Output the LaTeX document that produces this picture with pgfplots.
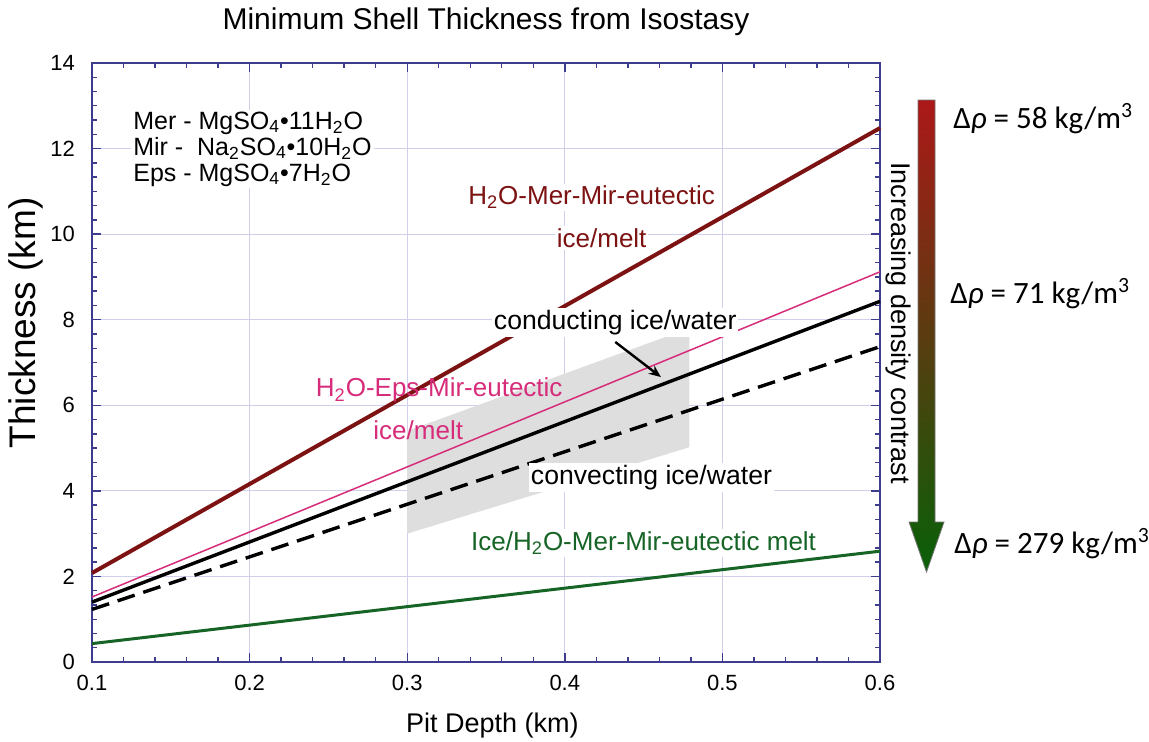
\documentclass[border=0pt]{standalone}
\usepackage{fontspec}
\setmainfont{Liberation Sans}
\newfontfamily\calfont{Carlito}
\usepackage{pgfplots}
\pgfplotsset{compat=1.18}
\usetikzlibrary{arrows.meta}

\definecolor{axisnavy}{RGB}{62,60,140}
\definecolor{gridc}{RGB}{208,208,236}
\definecolor{merred}{RGB}{124,18,18}
\definecolor{epspink}{RGB}{214,44,122}
\definecolor{icegreen}{RGB}{22,100,38}
\definecolor{shadegrey}{RGB}{222,222,222}
\definecolor{arrtop}{RGB}{172,24,24}
\definecolor{arrbot}{RGB}{8,96,8}

\begin{document}
\begin{tikzpicture}
\useasboundingbox (-46pt,-39.5pt) rectangle (528.5pt,331pt);
\begin{axis}[
  at={(0,0)}, anchor=south west,
  width=394pt, height=299.5pt, scale only axis,
  xmin=0.1, xmax=0.6, ymin=0, ymax=14,
  xtick={0.1,0.2,0.3,0.4,0.5,0.6},
  xticklabels={0.1,0.2,0.3,0.4,0.5,0.6},
  ytick={0,2,4,6,8,10,12,14},
  minor x tick num=4, minor y tick num=5,
  tick align=inside, xtick pos=both, ytick pos=both,
  major tick length=4.5pt, minor tick length=2.3pt,
  axis line style={axisnavy, line width=0.75pt},
  tick style={axisnavy, line width=0.7pt},
  grid=major, major grid style={gridc, line width=0.5pt},
  tick label style={font=\fontsize{11}{13}\selectfont},
  /pgf/number format/assume math mode=true,
  xticklabel style={yshift=-3pt},
  yticklabel style={xshift=-5pt},
  title={Minimum Shell Thickness from Isostasy},
  title style={font=\fontsize{15}{18}\selectfont, at={(axis description cs:0.5,1)}, anchor=base, yshift=11pt},
  xlabel={Pit Depth (km)},
  xlabel style={font=\fontsize{13.5}{16}\selectfont, at={(axis description cs:0.508,-0.1185)}, anchor=base},
  ylabel={Thickness (km)},
  ylabel style={font=\fontsize{18.5}{21}\selectfont, at={(axis description cs:-0.0723,0.566)}, anchor=base},
  clip=false,
]
% range of thickness estimates
\addplot[fill=shadegrey, draw=none] coordinates {(0.3,3.0) (0.479,5.02) (0.479,7.8) (0.3,5.4)} -- cycle;

% eutectic melt beneath ice
\addplot[icegreen, line width=1.5pt] coordinates {(0.1,0.43) (0.6,2.59)};
% convecting ice over water
\addplot[black, line width=1.7pt, dash pattern=on 9pt off 4.5pt] coordinates {(0.1,1.23) (0.6,7.37)};
% conducting ice over water
\addplot[black, line width=1.7pt] coordinates {(0.1,1.40) (0.6,8.43)};
% H2O-Eps-Mir eutectic
\addplot[epspink, line width=0.75pt] coordinates {(0.1,1.52) (0.6,9.12)};
% H2O-Mer-Mir eutectic
\addplot[merred, line width=2pt] coordinates {(0.1,2.08) (0.6,12.48)};

\node[fill=white, inner sep=1pt, align=left, anchor=west,
      font=\fontsize{12.5}{13}\selectfont] at (axis cs:0.1247,11.99)
  {Mer - MgSO\textsubscript{4}\textbullet 11H\textsubscript{2}O\\
   Mir -\ \ Na\textsubscript{2}SO\textsubscript{4}\textbullet 10H\textsubscript{2}O\\
   Eps - MgSO\textsubscript{4}\textbullet 7H\textsubscript{2}O};

\begin{scope}[every node/.style={fill=white, inner sep=1pt, font=\fontsize{13}{15}\selectfont}]
\node[text=merred] at (axis cs:0.417,10.86) {H\textsubscript{2}O-Mer-Mir-eutectic};
\node[text=merred] at (axis cs:0.4234,9.91) {ice/melt};
\node[fill=none, text=epspink] at (axis cs:0.3203,6.36) {H\textsubscript{2}O-Eps-Mir-eutectic};
\node[fill=none, text=epspink] at (axis cs:0.307,5.42) {ice/melt};
\node[font=\fontsize{13.3}{15}\selectfont] at (axis cs:0.432,7.94) {conducting ice/water};
\node[font=\fontsize{13.3}{15}\selectfont] at (axis cs:0.455,4.32) {convecting ice/water};
\node[text=icegreen] at (axis cs:0.45,2.78) {Ice/H\textsubscript{2}O-Mer-Mir-eutectic melt};
\end{scope}
\draw[black, line width=1.2pt, -{Stealth[length=6pt,width=5pt]}] (axis cs:0.432,7.48) -- (axis cs:0.461,6.66);
\end{axis}

% density-contrast scale to the right of the plot
\begin{scope}[x=0.5pt, y=-0.5pt, shift={(-46pt,331pt)}]
\shade[top color=arrtop, bottom color=arrbot, draw=black!55, line width=0.4pt]
  (918,100) -- (935,100) -- (935,522) -- (944,522) -- (926.5,572) -- (909,522) -- (918,522) -- cycle;
\node[rotate=-90, font=\fontsize{13.5}{16}\selectfont] at (898,323) {Increasing density contrast};
\begin{scope}[every node/.style={anchor=base west, inner sep=0pt, font=\calfont\fontsize{15.5}{18}\selectfont}]
\node at (953,128) {Δ{\itshape ρ} = 58 kg/m\textsuperscript{3}};
\node at (950,303) {Δ{\itshape ρ} = 71 kg/m\textsuperscript{3}};
\node at (954,553) {Δ{\itshape ρ} = 279 kg/m\textsuperscript{3}};
\end{scope}
\end{scope}
\end{tikzpicture}
\end{document}
